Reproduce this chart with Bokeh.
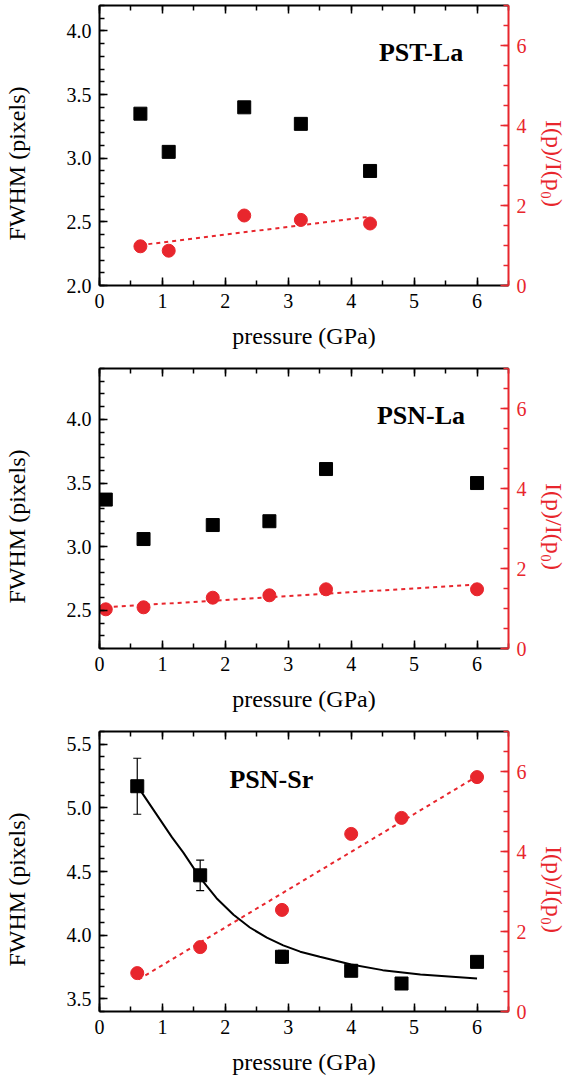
from bokeh.plotting import figure
from bokeh.layouts import column
from bokeh.models import (LinearAxis, Range1d, SingleIntervalTicker, PrintfTickFormatter,
                          Label, Whisker, ColumnDataSource, TeeHead, InlineStyleSheet)
from bokeh.embed import file_html
from bokeh.resources import INLINE

# ---------------- data ----------------
# Panel 1: PST-La
p1_name = "PST-La"
p1_x = [0.65, 1.1, 2.3, 3.2, 4.3]
p1_fwhm = [3.35, 3.05, 3.40, 3.27, 2.90]
p1_int = [0.98, 0.87, 1.75, 1.64, 1.55]
p1_fit_x = [0.65, 4.3]
p1_fit_y = [1.01, 1.72]

# Panel 2: PSN-La
p2_name = "PSN-La"
p2_x = [0.1, 0.7, 1.8, 2.7, 3.6, 6.0]
p2_fwhm = [3.37, 3.06, 3.17, 3.20, 3.61, 3.50]
p2_int = [0.98, 1.03, 1.27, 1.33, 1.48, 1.48]
p2_fit_x = [0.1, 6.0]
p2_fit_y = [1.03, 1.60]

# Panel 3: PSN-Sr
p3_name = "PSN-Sr"
p3_x = [0.6, 1.6, 2.9, 4.0, 4.8, 6.0]
p3_fwhm = [5.17, 4.47, 3.83, 3.72, 3.62, 3.79]
p3_err_x = [0.6, 1.6, 2.9]
p3_err_lo = [4.95, 4.35, 3.78]
p3_err_hi = [5.39, 4.59, 3.88]
p3_int = [0.96, 1.61, 2.54, 4.44, 4.84, 5.86]
p3_fit_x = [0.62, 6.0]
p3_fit_y = [0.80, 5.88]
p3_curve_x = [0.66, 0.85, 1.0, 1.15, 1.33, 1.6, 1.86, 2.13, 2.39, 2.66, 2.92, 3.19, 3.5, 4.0, 4.5, 5.1, 6.0]
p3_curve_y = [5.13, 4.99, 4.88, 4.77, 4.65, 4.45, 4.29, 4.16, 4.06, 3.98, 3.92, 3.87, 3.83, 3.77, 3.725, 3.69, 3.66]

x_label = "pressure (GPa)"
y_label = "FWHM (pixels)"
y2_label = "I(p)/I(p\u2080)"

# ---------------- style ----------------
RED = "#e8262d"
FONT = "Liberation Serif"
PAD = "\u00a0" * 6
SERIF_CSS = InlineStyleSheet(css=":host { font-family: 'Liberation Serif', serif; } "
                                 "text { font-family: 'Liberation Serif', serif; }")


def style_axis(ax, color="black"):
    ax.axis_line_color = color
    ax.axis_line_width = 2
    ax.major_tick_line_color = color
    ax.minor_tick_line_color = color
    ax.major_tick_line_width = 1.5
    ax.minor_tick_line_width = 1.5
    ax.major_tick_in = 8
    ax.major_tick_out = 0
    ax.minor_tick_in = 5
    ax.minor_tick_out = 0
    ax.major_label_text_font = FONT
    ax.major_label_text_font_size = "15pt"
    ax.major_label_text_font_style = "normal"
    ax.major_label_text_color = color
    ax.major_label_standoff = 8
    ax.axis_label_text_font = FONT
    ax.axis_label_text_font_size = "18pt"
    ax.axis_label_text_font_style = "normal"
    ax.axis_label_text_color = color


def make_panel(name, label_xy, yr, xs, fwhm, ints, fit_x, fit_y, bottom_border,
               curve=None, errs=None):
    p = figure(frame_width=409, frame_height=280, x_range=Range1d(0, 6.5),
               y_range=Range1d(*yr), output_backend="svg", toolbar_location=None,
               min_border_left=97, min_border_right=71, min_border_top=5,
               min_border_bottom=bottom_border, x_axis_location=None, y_axis_location=None)
    p.stylesheets = [SERIF_CSS]
    p.extra_y_ranges = {"right": Range1d(0, 7)}
    p.outline_line_color = None
    p.xgrid.visible = False
    p.ygrid.visible = False

    xb = LinearAxis(ticker=SingleIntervalTicker(interval=1, num_minor_ticks=2), axis_label=x_label)
    style_axis(xb)
    xb.axis_label_standoff = 12
    p.add_layout(xb, "below")

    xtop = LinearAxis(ticker=SingleIntervalTicker(interval=1, num_minor_ticks=2))
    style_axis(xtop)
    xtop.major_label_text_font_size = "0pt"
    xtop.major_label_text_alpha = 0
    xtop.major_label_standoff = 0
    p.add_layout(xtop, "above")

    yl = LinearAxis(ticker=SingleIntervalTicker(interval=0.5, num_minor_ticks=5),
                    formatter=PrintfTickFormatter(format="%.1f"), axis_label=y_label + PAD)
    style_axis(yl)
    yl.axis_label_standoff = 34
    p.add_layout(yl, "left")

    yr_ax = LinearAxis(y_range_name="right", ticker=SingleIntervalTicker(interval=2, num_minor_ticks=4),
                       axis_label=PAD + y2_label)
    style_axis(yr_ax, RED)
    yr_ax.axis_label_standoff = 11
    p.add_layout(yr_ax, "right")

    p.line(fit_x, fit_y, y_range_name="right", line_color=RED, line_width=2, line_dash="4 4")
    if curve is not None:
        p.line(curve[0], curve[1], line_color="black", line_width=2)
    if errs is not None:
        src = ColumnDataSource(dict(x=errs[0], lo=errs[1], hi=errs[2]))
        w = Whisker(source=src, base="x", lower="lo", upper="hi", line_color="black", line_width=1.2,
                    upper_head=TeeHead(size=8, line_color="black", line_width=1.2),
                    lower_head=TeeHead(size=8, line_color="black", line_width=1.2))
        p.add_layout(w)

    p.scatter(xs, fwhm, marker="square", size=13, fill_color="black", line_color="black")
    p.scatter(xs, ints, y_range_name="right", marker="circle", size=13, fill_color=RED, line_color=RED)

    lab = Label(x=label_xy[0], y=label_xy[1], text=name, text_font=FONT, text_font_size="26px",
                text_font_style="bold", text_align="center", text_baseline="middle", text_color="black")
    p.add_layout(lab)
    return p


p1 = make_panel(p1_name, (5.11, 3.83), (2.0, 4.2), p1_x, p1_fwhm, p1_int, p1_fit_x, p1_fit_y, 78)
p2 = make_panel(p2_name, (5.11, 4.03), (2.2, 4.4), p2_x, p2_fwhm, p2_int, p2_fit_x, p2_fit_y, 78)
p3 = make_panel(p3_name, (2.73, 5.22), (3.4, 5.6), p3_x, p3_fwhm, p3_int, p3_fit_x, p3_fit_y, 68,
                curve=(p3_curve_x, p3_curve_y), errs=(p3_err_x, p3_err_lo, p3_err_hi))

layout = column(p1, p2, p3, spacing=0)
layout.stylesheets = [SERIF_CSS]
open("out.html", "w").write(file_html(layout, INLINE))
